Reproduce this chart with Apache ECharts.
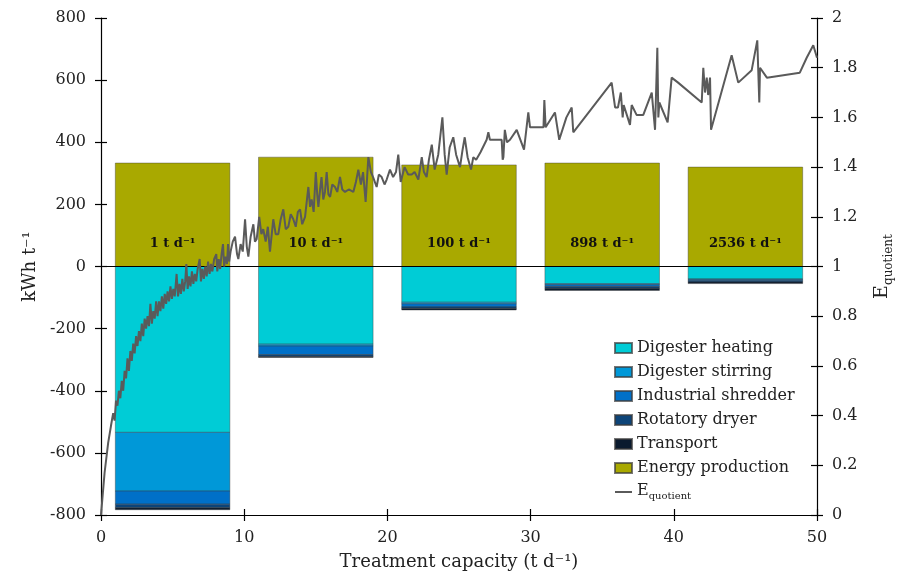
<!DOCTYPE html>
<html><head><meta charset="utf-8">
<script src="https://cdn.jsdelivr.net/npm/echarts@6/dist/echarts.min.js"></script>
<style>html,body{margin:0;padding:0;background:#fff}#c{width:897px;height:575px}</style>
</head><body><div id="c"></div>
<script>
// ---- data ----
const capacityCenters = [5, 15, 25, 35, 45];
const capacityLabels = ['1 t d⁻¹', '10 t d⁻¹', '100 t d⁻¹', '898 t d⁻¹', '2536 t d⁻¹'];
const digesterHeating = [-534, -250, -115, -55, -40];
const digesterStirring = [-189, -6, -5, -3, -2];
const industrialShredder = [-42, -28, -10, -6, -4];
const rotatoryDryer = [-12, -6, -5, -6, -4];
const transport = [-6, -3, -5, -7, -5];
const energyProduction = [333, 352, 327, 333, 320];

const eqX = [0.00,0.25,0.50,0.70,0.85,0.95,1.05,1.15,1.25,1.35,1.45,1.55,1.65,1.75,1.85,1.95,2.05,2.15,2.25,2.35,2.45,2.55,2.65,2.75,2.85,2.95,3.05,3.15,3.25,3.35,3.45,3.55,3.65,3.75,3.85,3.95,4.05,4.15,4.25,4.35,4.45,4.55,4.65,4.75,4.85,4.95,5.05,5.15,5.28,5.38,5.48,5.58,5.68,5.78,5.88,5.96,6.05,6.15,6.25,6.35,6.45,6.55,6.65,6.75,6.89,6.98,7.08,7.18,7.28,7.38,7.48,7.58,7.68,7.78,7.90,8.05,8.12,8.22,8.32,8.42,8.52,8.60,8.70,8.80,8.87,8.95,9.05,
9.20,9.36,9.50,9.59,9.75,9.90,10.06,10.18,10.29,10.45,10.64,10.75,10.87,11.05,11.20,11.33,11.50,11.65,11.80,12.03,12.20,12.38,12.55,12.73,12.90,13.08,13.25,13.43,13.60,13.75,13.90,14.05,14.25,14.48,14.60,14.71,14.85,15.00,15.10,15.18,15.30,15.40,15.52,15.64,15.76,15.88,16.00,16.15,16.34,16.50,16.69,16.85,17.04,17.30,17.62,17.80,17.97,18.15,18.30,18.48,18.67,18.85,19.00,19.25,19.40,19.60,19.80,19.95,20.18,20.40,20.60,20.76,20.93,21.20,21.45,21.70,21.90,22.16,22.40,22.55,22.74,22.90,23.10,23.30,23.55,23.84,24.00,24.14,24.35,24.60,24.80,25.07,25.25,25.40,25.60,25.84,26.00,26.20,26.50,26.93,27.05,27.16,27.60,27.98,28.05,28.10,28.20,28.35,28.56,29.03,29.54,29.84,29.96,30.90,30.96,31.05,31.70,32.00,32.50,32.87,32.98,35.66,35.90,36.10,36.30,36.43,36.50,36.94,37.06,37.40,37.87,38.46,38.69,38.85,38.92,38.99,39.57,39.85,40.30,41.95,42.06,42.18,42.30,42.40,42.53,42.60,44.04,44.50,45.44,45.83,45.97,46.02,46.50,48.80,49.28,49.74,50.00];
const eqY = [0.00,0.17,0.29,0.36,0.41,0.38,0.46,0.44,0.50,0.47,0.54,0.50,0.58,0.55,0.63,0.58,0.66,0.62,0.69,0.65,0.72,0.68,0.74,0.70,0.77,0.72,0.79,0.75,0.80,0.76,0.85,0.77,0.82,0.79,0.86,0.80,0.86,0.82,0.88,0.83,0.89,0.85,0.90,0.86,0.92,0.87,0.91,0.88,0.97,0.88,0.93,0.89,0.95,0.90,0.94,1.01,0.91,0.96,0.92,0.98,0.93,0.97,0.94,0.99,1.03,0.94,0.99,0.95,1.00,0.96,1.02,0.97,1.01,0.98,1.03,1.05,0.98,1.03,0.99,1.05,1.09,1.00,1.04,1.01,1.09,1.02,1.06,
1.10,1.12,1.05,1.03,1.09,1.06,1.19,1.08,1.04,1.12,1.17,1.10,1.11,1.20,1.13,1.15,1.10,1.16,1.06,1.19,1.13,1.13,1.19,1.23,1.15,1.16,1.21,1.19,1.16,1.22,1.23,1.17,1.20,1.32,1.24,1.27,1.22,1.38,1.29,1.24,1.31,1.36,1.27,1.30,1.38,1.29,1.28,1.33,1.32,1.30,1.36,1.31,1.30,1.31,1.30,1.34,1.39,1.33,1.38,1.26,1.44,1.38,1.36,1.32,1.37,1.36,1.33,1.35,1.39,1.36,1.38,1.45,1.34,1.40,1.37,1.37,1.38,1.35,1.44,1.38,1.36,1.43,1.49,1.39,1.45,1.60,1.45,1.37,1.48,1.52,1.45,1.40,1.47,1.52,1.44,1.39,1.44,1.43,1.46,1.51,1.54,1.51,1.51,1.51,1.43,1.44,1.55,1.50,1.51,1.55,1.47,1.62,1.56,1.56,1.67,1.56,1.62,1.51,1.60,1.64,1.54,1.74,1.64,1.64,1.70,1.60,1.65,1.57,1.65,1.61,1.61,1.70,1.55,1.88,1.60,1.66,1.58,1.76,1.74,1.66,1.80,1.70,1.76,1.69,1.76,1.55,1.85,1.74,1.79,1.91,1.66,1.80,1.76,1.78,1.84,1.89,1.84];

const seriesNames = ['Digester heating', 'Digester stirring', 'Industrial shredder', 'Rotatory dryer', 'Transport', 'Energy production'];
const barValues = [digesterHeating, digesterStirring, industrialShredder, rotatoryDryer, transport, energyProduction];
const barColors = ['#00CCD6', '#0098D8', '#0070C8', '#0D4478', '#0A1A2E', '#A9A900'];
const lineName = 'Equotient';

// ---- chart ----
const FONT = 'DejaVu Serif';
const BAR_HALF = 4; // half bar width in x-axis units
const chart = echarts.init(document.getElementById('c'));
const axisLineStyle = { color: '#000', width: 1.2 };
const labelStyle = { fontFamily: FONT, fontSize: 16, color: '#222' };

// stacked extents (negative components stack downward from zero)
const negRunning = capacityCenters.map(() => 0);
const series = seriesNames.map((name, i) => {
  const isEnergy = i === seriesNames.length - 1;
  const data = capacityCenters.map((c, j) => {
    const v = barValues[i][j];
    if (isEnergy) return [c, 0, v, j];
    const hi = negRunning[j], lo = hi + v;
    negRunning[j] = lo;
    return [c, lo, hi, j];
  });
  const s = {
    name, type: 'custom', xAxisIndex: 0, yAxisIndex: 0,
    itemStyle: { color: barColors[i], borderColor: 'rgba(60,60,60,0.7)', borderWidth: 0.6 },
    encode: { x: 0, y: [1, 2] },
    data,
    renderItem: (params, api) => {
      const c = api.value(0), lo = api.value(1), hi = api.value(2), idx = api.value(3);
      const p1 = api.coord([c - BAR_HALF, hi]);
      const p2 = api.coord([c + BAR_HALF, lo]);
      const children = [{
        type: 'rect',
        shape: { x: p1[0], y: p1[1], width: p2[0] - p1[0], height: p2[1] - p1[1] },
        style: api.style()
      }];
      if (isEnergy) {
        const base = api.coord([c, 0]);
        children.push({
          type: 'text', x: base[0], y: base[1] - 23, z2: 10,
          style: { text: capacityLabels[idx], textAlign: 'center', textVerticalAlign: 'middle',
            font: 'bold 13px "' + FONT + '"', fill: '#111' }
        });
      }
      return { type: 'group', children };
    }
  };
  if (isEnergy) {
    s.markLine = {
      silent: true, symbol: 'none', label: { show: false }, z: 4,
      lineStyle: { color: '#000', width: 1.2, type: 'solid' },
      data: [{ yAxis: 0 }]
    };
  }
  return s;
});
series.push({
  name: lineName, type: 'line', xAxisIndex: 0, yAxisIndex: 2,
  symbol: 'none', smooth: false, z: 5,
  lineStyle: { color: '#5a5a5a', width: 2 }, itemStyle: { color: '#5a5a5a' },
  data: eqX.map((x, i) => [x, eqY[i]])
});

const subRich = {
  e: { fontFamily: FONT, fontSize: 19, lineHeight: 22, verticalAlign: 'top', color: '#222' },
  s: { fontFamily: FONT, fontSize: 12, lineHeight: 12, verticalAlign: 'bottom', color: '#222' }
};

chart.setOption({
  animation: false,
  backgroundColor: '#fff',
  grid: { left: 101, right: 80, top: 18, bottom: 60, containLabel: false, outerBoundsMode: 'none' },
  legend: {
    orient: 'vertical', left: 614, top: 339, itemWidth: 17, itemHeight: 10, itemGap: 6,
    padding: 0,
    data: seriesNames.map(n => ({ name: n, icon: 'rect' })).concat([{ name: lineName, itemStyle: { opacity: 0 } }]),
    formatter: n => n === lineName ? '{e|E}{s|quotient}' : n,
    textStyle: { fontFamily: FONT, fontSize: 16, lineHeight: 18, color: '#222',
      rich: { e: { fontFamily: FONT, fontSize: 16, lineHeight: 18, verticalAlign: 'top', color: '#222' },
              s: { fontFamily: FONT, fontSize: 10, lineHeight: 10, verticalAlign: 'bottom', color: '#222' } } }
  },
  xAxis: [
    { type: 'value', min: 0, max: 50, interval: 10, position: 'bottom',
      axisLine: { onZero: false, lineStyle: axisLineStyle },
      axisTick: { length: 6, lineStyle: axisLineStyle },
      axisLabel: Object.assign({ margin: 15 }, labelStyle),
      splitLine: { show: false },
      name: 'Treatment capacity (t d⁻¹)', nameLocation: 'middle', nameGap: 38,
      nameTextStyle: { fontFamily: FONT, fontSize: 18, color: '#222' } },
    { type: 'value', min: 0, max: 50, interval: 10, position: 'bottom',
      axisLine: { show: false, onZero: false }, axisTick: { inside: true, length: 6, lineStyle: axisLineStyle },
      axisLabel: { show: false }, splitLine: { show: false } }
  ],
  yAxis: [
    { type: 'value', min: -800, max: 800, interval: 200, position: 'left',
      axisLine: { show: true, onZero: false, lineStyle: axisLineStyle },
      axisTick: { show: true, length: 6, lineStyle: axisLineStyle },
      axisLabel: Object.assign({ margin: 15 }, labelStyle),
      splitLine: { show: false },
      name: 'kWh t⁻¹', nameLocation: 'middle', nameGap: 62, nameRotate: 90,
      nameTextStyle: { fontFamily: FONT, fontSize: 18, color: '#222' } },
    { type: 'value', min: -800, max: 800, interval: 200, position: 'left',
      axisLine: { show: false, onZero: false }, axisTick: { show: true, inside: true, length: 6, lineStyle: axisLineStyle },
      axisLabel: { show: false }, splitLine: { show: false } },
    { type: 'value', min: 0, max: 2, interval: 0.2, position: 'right',
      axisLine: { show: true, onZero: false, lineStyle: axisLineStyle },
      axisTick: { show: true, length: 6, lineStyle: axisLineStyle },
      axisLabel: Object.assign({ margin: 15 }, labelStyle),
      splitLine: { show: false },
      name: '{e|E}{s|quotient}', nameLocation: 'middle', nameGap: 56, nameRotate: 90,
      nameTextStyle: { rich: subRich } },
    { type: 'value', min: 0, max: 2, interval: 0.2, position: 'right',
      axisLine: { show: false, onZero: false }, axisTick: { show: true, inside: true, length: 6, lineStyle: axisLineStyle },
      axisLabel: { show: false }, splitLine: { show: false } }
  ],
  series
});
</script></body></html>
